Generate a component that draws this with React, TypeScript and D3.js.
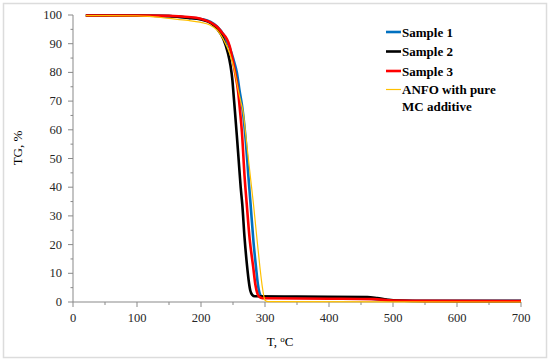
import * as d3 from "d3";

// TG curves: [T, TG]
const sample1: [number, number][] = [
  [20, 99.8], [100, 99.8], [150, 99.6], [180, 99.1], [200, 98.6], [215, 97.6],
  [225, 96], [235, 93.2], [242, 90.2], [248, 86.5], [252, 83.5], [256, 80],
  [260, 74], [265, 67], [270, 56], [274, 44], [277.5, 34], [282, 21], [286, 12],
  [289, 6], [292, 2.8], [296, 1.7], [320, 1.5], [450, 1.3], [480, 0.9],
  [500, 0.55], [550, 0.45], [700, 0.45],
];
const sample2: [number, number][] = [
  [20, 99.8], [100, 99.8], [150, 99.6], [180, 99], [200, 98.4], [215, 97.2],
  [225, 95.2], [235, 91.6], [242, 86.8], [246, 82.5], [249, 77.5], [251, 72],
  [253, 66.5], [256, 58], [259, 49], [262, 40], [264.5, 34], [268, 22.5],
  [272, 12.5], [274.5, 7.5], [277, 4], [280, 2.5], [284, 2], [350, 1.9],
  [460, 1.75], [475, 1.4], [490, 0.9], [505, 0.5], [530, 0.35], [700, 0.3],
];
const sample3: [number, number][] = [
  [20, 99.8], [100, 99.8], [150, 99.7], [180, 99.3], [198, 98.8], [215, 97.4],
  [225, 95.9], [233, 93.8], [240, 91.8], [245, 89], [248, 86], [253, 80.2],
  [258, 73.3], [261, 66.5], [264, 59], [268, 44], [271.5, 34], [276, 22],
  [281.5, 12.3], [285, 6], [288, 3], [291, 1.8], [296, 1.3], [400, 1.15],
  [470, 1.0], [500, 0.5], [550, 0.4], [700, 0.35],
];
const anfo: [number, number][] = [
  [20, 99.8], [100, 99.7], [120, 99.5], [150, 98.8], [180, 98.1], [198, 97.5],
  [214, 96.5], [225, 94.8], [235, 91.5], [245, 86.5], [252, 81], [258, 74],
  [262, 70], [266, 66], [270, 58], [274, 50], [278, 42], [282, 34], [287, 23],
  [292, 12.3], [296, 5], [300, 0.6], [305, 0.1], [700, 0],
];

const seriesNames = ["Sample 1", "Sample 2", "Sample 3", "ANFO with pure"];
const seriesData = [sample1, sample2, sample3, anfo];
const seriesColors = ["#0070C0", "#000000", "#FF0000", "#FFC000"];
const seriesWidths = [2.6, 2.6, 2.6, 1.2];

const xTicks = [0, 100, 200, 300, 400, 500, 600, 700];
const yTicks = [0, 10, 20, 30, 40, 50, 60, 70, 80, 90, 100];

const W = 550;
const H = 362;
const serif = "'Liberation Serif', 'DejaVu Serif', serif";
const axisColor = "#898989";

export default function App() {
  const x = d3.scaleLinear().domain([0, 700]).range([73, 521]);
  const y = d3.scaleLinear().domain([0, 100]).range([302, 15]);

  const line = d3
    .line<[number, number]>()
    .x((d) => x(d[0]))
    .y((d) => y(d[1]))
    .curve(d3.curveMonotoneX);

  const xMinor = d3.range(50, 700, 100);
  const yMinor = d3.range(5, 100, 10);

  return (
    <svg
      width={W}
      height={H}
      style={{ position: "absolute", left: 0, top: 0, background: "#fff" }}
      fontFamily={serif}
    >
      <rect x={3.5} y={3.5} width={543} height={354} fill="#fff" stroke="#dcdcdc" strokeWidth={1.5} />

      {/* y axis */}
      <line x1={x(0)} x2={x(0)} y1={y(0)} y2={y(100)} stroke={axisColor} />
      {yTicks.map((t) => (
        <g key={"y" + t}>
          <line x1={x(0) - 5} x2={x(0)} y1={y(t)} y2={y(t)} stroke={axisColor} />
          <text x={62} y={y(t) + 4} textAnchor="end" fontSize={12.5} fill="#262626">
            {t}
          </text>
        </g>
      ))}
      {yMinor.map((t) => (
        <line key={"ym" + t} x1={x(0) - 2.5} x2={x(0)} y1={y(t)} y2={y(t)} stroke={axisColor} />
      ))}

      {/* x axis */}
      <line x1={x(0)} x2={x(700)} y1={y(0)} y2={y(0)} stroke={axisColor} />
      {xTicks.map((t) => (
        <g key={"x" + t}>
          <line x1={x(t)} x2={x(t)} y1={y(0)} y2={y(0) + 5} stroke={axisColor} />
          <text x={x(t)} y={322} textAnchor="middle" fontSize={12.5} fill="#262626">
            {t}
          </text>
        </g>
      ))}
      {xMinor.map((t) => (
        <line key={"xm" + t} x1={x(t)} x2={x(t)} y1={y(0)} y2={y(0) + 3} stroke={axisColor} />
      ))}

      {/* axis titles */}
      <text x={280} y={346} textAnchor="middle" fontSize={13} fill="#000">
        T, <tspan fontSize={9} dy={-4}>o</tspan>
        <tspan dy={4}>C</tspan>
      </text>
      <text
        transform={`translate(22, 148) rotate(-90)`}
        textAnchor="middle"
        fontSize={13}
        fill="#000"
      >
        TG, %
      </text>

      {/* curves */}
      {seriesData.map((d, i) => (
        <path
          key={seriesNames[i]}
          d={line(d) || ""}
          fill="none"
          stroke={seriesColors[i]}
          strokeWidth={seriesWidths[i]}
          strokeLinejoin="round"
        />
      ))}

      {/* legend */}
      {seriesNames.map((name, i) => {
        const cy = [32, 51.5, 71, 89.5][i];
        return (
          <g key={"lg" + name}>
            <line x1={386} x2={401} y1={cy} y2={cy} stroke={seriesColors[i]} strokeWidth={seriesWidths[i]} />
            <text x={402} y={cy + 4.5} fontSize={13} fontWeight="bold" fill="#000">
              {name}
            </text>
          </g>
        );
      })}
      <text x={402} y={110.5} fontSize={13} fontWeight="bold" fill="#000">
        MC additive
      </text>
    </svg>
  );
}
